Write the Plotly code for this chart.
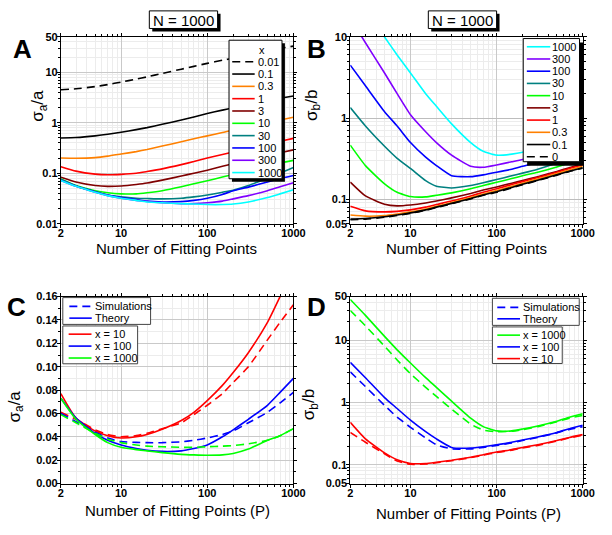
import math
import plotly.graph_objects as go

FONT = "Arial, Liberation Sans, Helvetica, sans-serif"
W, H = 612, 535

# ---------------- data ----------------
P = [2, 3, 5, 7, 10, 15, 20, 30, 50, 70, 100, 150, 200, 300, 500, 700, 1000]

# Panel A : sigma_a / a  (N = 1000)
A_labels = ["0.01", "0.1", "0.3", "1", "3", "10", "30", "100", "300", "1000"]
A_x0_01 = [4.5, 4.7, 5.2, 5.7, 6.4, 7.3, 8.1, 9.5, 11.5, 13.1, 15, 17.3, 19, 22, 26.5, 29.5, 33]
A_x0_1 = [0.5, 0.51, 0.55, 0.59, 0.65, 0.73, 0.8, 0.93, 1.13, 1.3, 1.52, 1.78, 1.98, 2.3, 2.75, 3.05, 3.4]
A_x0_3 = [0.2, 0.198, 0.204, 0.218, 0.24, 0.268, 0.295, 0.345, 0.42, 0.48, 0.55, 0.64, 0.72, 0.83, 1.0, 1.13, 1.28]
A_x1 = [0.135, 0.11, 0.096, 0.093, 0.095, 0.1, 0.108, 0.122, 0.148, 0.17, 0.2, 0.235, 0.265, 0.31, 0.38, 0.43, 0.49]
A_x3 = [0.083, 0.067, 0.057, 0.055, 0.056, 0.06, 0.064, 0.073, 0.088, 0.1, 0.115, 0.137, 0.155, 0.183, 0.225, 0.255, 0.29]
A_x10 = [0.077, 0.057, 0.045, 0.041, 0.039, 0.039, 0.041, 0.045, 0.054, 0.062, 0.071, 0.084, 0.095, 0.112, 0.138, 0.16, 0.18]
A_x30 = [0.076, 0.056, 0.043, 0.037, 0.034, 0.032, 0.0315, 0.031, 0.032, 0.034, 0.037, 0.042, 0.046, 0.057, 0.08, 0.1, 0.13]
A_x100 = [0.073, 0.056, 0.043, 0.037, 0.033, 0.030, 0.028, 0.027, 0.0275, 0.029, 0.032, 0.038, 0.045, 0.053, 0.067, 0.078, 0.09]
A_x300 = [0.072, 0.055, 0.042, 0.036, 0.032, 0.029, 0.0275, 0.026, 0.025, 0.025, 0.026, 0.028, 0.031, 0.036, 0.045, 0.054, 0.065]
A_x1000 = [0.072, 0.055, 0.042, 0.036, 0.032, 0.029, 0.027, 0.026, 0.025, 0.0245, 0.024, 0.024, 0.0245, 0.027, 0.033, 0.039, 0.047]

# Panel B : sigma_b / b  (N = 1000)
B_labels = ["1000", "300", "100", "30", "10", "3", "1", "0.3", "0.1", "0"]
B_x1000 = [45, 22, 10, 6, 3.6, 2.0, 1.4, 0.85, 0.5, 0.39, 0.35, 0.36, 0.38, 0.43, 0.52, 0.59, 0.66]
B_x300 = [17, 8.5, 3.6, 2.0, 1.1, 0.68, 0.5, 0.35, 0.255, 0.248, 0.265, 0.29, 0.31, 0.35, 0.42, 0.47, 0.53]
B_x100 = [4.5, 2.5, 1.2, 0.8, 0.5, 0.33, 0.26, 0.195, 0.19, 0.2, 0.215, 0.235, 0.255, 0.285, 0.34, 0.38, 0.43]
B_x30 = [1.35, 0.8, 0.45, 0.32, 0.24, 0.17, 0.145, 0.138, 0.148, 0.16, 0.175, 0.195, 0.21, 0.235, 0.28, 0.32, 0.36]
B_x10 = [0.465, 0.26, 0.155, 0.122, 0.108, 0.107, 0.112, 0.12, 0.135, 0.148, 0.162, 0.18, 0.195, 0.215, 0.25, 0.28, 0.31]
B_x3 = [0.163, 0.11, 0.087, 0.083, 0.085, 0.09, 0.095, 0.104, 0.118, 0.13, 0.142, 0.158, 0.17, 0.19, 0.22, 0.245, 0.275]
B_x1 = [0.082, 0.072, 0.07, 0.071, 0.074, 0.08, 0.086, 0.095, 0.11, 0.122, 0.135, 0.152, 0.165, 0.185, 0.215, 0.24, 0.265]
B_x0_3 = [0.064, 0.062, 0.063, 0.066, 0.07, 0.076, 0.082, 0.091, 0.105, 0.116, 0.128, 0.145, 0.158, 0.178, 0.207, 0.23, 0.255]
B_x0_1 = [0.057, 0.058, 0.061, 0.064, 0.068, 0.074, 0.08, 0.089, 0.102, 0.113, 0.124, 0.14, 0.153, 0.172, 0.2, 0.222, 0.245]
B_x0 = [0.056, 0.057, 0.06, 0.063, 0.067, 0.073, 0.079, 0.088, 0.101, 0.112, 0.122, 0.138, 0.151, 0.17, 0.198, 0.22, 0.242]

# Panel C : sigma_a / a, theory vs simulations
C_labels = ["x = 10", "x = 100", "x = 1000"]
C_th_x10 = [0.077, 0.056, 0.045, 0.041, 0.039, 0.040, 0.042, 0.0465, 0.054, 0.061, 0.071, 0.084, 0.095, 0.112, 0.138, 0.16, 0.185]
C_sim_x10 = [0.061, 0.055, 0.046, 0.042, 0.040, 0.041, 0.043, 0.047, 0.052, 0.059, 0.067, 0.077, 0.0865, 0.1, 0.123, 0.138, 0.153]
C_th_x100 = [0.073, 0.056, 0.043, 0.037, 0.033, 0.03, 0.0285, 0.0275, 0.028, 0.030, 0.033, 0.04, 0.046, 0.055, 0.067, 0.078, 0.09]
C_sim_x100 = [0.060, 0.053, 0.044, 0.039, 0.036, 0.0352, 0.035, 0.035, 0.0357, 0.037, 0.039, 0.042, 0.045, 0.052, 0.061, 0.069, 0.078]
C_th_x1000 = [0.073, 0.055, 0.042, 0.035, 0.031, 0.029, 0.028, 0.0265, 0.025, 0.0245, 0.0242, 0.0245, 0.0257, 0.0295, 0.037, 0.041, 0.047]
C_sim_x1000 = [0.059, 0.052, 0.043, 0.038, 0.035, 0.033, 0.032, 0.0315, 0.031, 0.031, 0.0315, 0.032, 0.0325, 0.034, 0.037, 0.041, 0.047]

# Panel D : sigma_b / b, theory vs simulations
D_labels = ["x = 1000", "x = 100", "x = 10"]
D_th_x1000 = [45, 25, 11.5, 7, 4.3, 2.5, 1.75, 1.05, 0.56, 0.41, 0.35, 0.35, 0.375, 0.42, 0.5, 0.58, 0.66]
D_sim_x1000 = [30, 17, 8, 4.8, 2.9, 1.75, 1.25, 0.78, 0.45, 0.36, 0.34, 0.345, 0.365, 0.41, 0.49, 0.56, 0.62]
D_th_x100 = [4.4, 2.5, 1.2, 0.8, 0.52, 0.34, 0.26, 0.19, 0.185, 0.195, 0.21, 0.23, 0.25, 0.28, 0.33, 0.38, 0.43]
D_sim_x100 = [3.1, 1.8, 0.9, 0.58, 0.4, 0.27, 0.21, 0.18, 0.18, 0.19, 0.205, 0.225, 0.245, 0.275, 0.325, 0.37, 0.41]
D_th_x10 = [0.48, 0.26, 0.155, 0.12, 0.105, 0.105, 0.11, 0.118, 0.132, 0.145, 0.16, 0.175, 0.19, 0.21, 0.245, 0.275, 0.305]
D_sim_x10 = [0.33, 0.23, 0.15, 0.115, 0.102, 0.103, 0.108, 0.116, 0.13, 0.143, 0.157, 0.172, 0.186, 0.205, 0.24, 0.27, 0.298]

X_TICKS = [2, 10, 100, 1000]
X_TICKTEXT = ["2", "10", "100", "1000"]
A_YTICKS = [0.01, 0.1, 1, 10, 50]
A_YTEXT = ["0.01", "0.1", "1", "10", "50"]
B_YTICKS = [0.05, 0.1, 1, 10]
B_YTEXT = ["0.05", "0.1", "1", "10"]
C_YTICKS = [0, 0.02, 0.04, 0.06, 0.08, 0.10, 0.12, 0.14, 0.16]
C_YTEXT = ["0.00", "0.02", "0.04", "0.06", "0.08", "0.10", "0.12", "0.14", "0.16"]
D_YTICKS = [0.05, 0.1, 1, 10, 50]
D_YTEXT = ["0.05", "0.1", "1", "10", "50"]

# ---------------- styles ----------------
BLACK, ORANGE, RED, DRED = "#000000", "#FF8000", "#FF0000", "#800000"
GREEN, TEAL, BLUE, PURPLE, CYAN = "#00FF00", "#008080", "#0000FF", "#8000FF", "#00FFFF"
DASH = "8px,5px"
LW = 1.6


def px(x):
    return x / W


def py(y):
    return 1 - y / H


def minor_log(lo, hi):
    vals = []
    dec = 10.0 ** -3
    while dec < 1e4:
        for m in range(2, 10):
            v = m * dec
            if lo < v < hi:
                vals.append(round(v, 6))
        dec *= 10
    return vals


fig = go.Figure()


def add_line(xa, ya, y, color, dash="solid"):
    fig.add_trace(go.Scatter(
        x=P, y=y, mode="lines", xaxis=xa, yaxis=ya, showlegend=False,
        hoverinfo="skip",
        line=dict(color=color, width=LW, dash=dash, shape="spline", smoothing=0.5)))


A_series = [A_x0_01, A_x0_1, A_x0_3, A_x1, A_x3, A_x10, A_x30, A_x100, A_x300, A_x1000]
A_colors = [BLACK, BLACK, ORANGE, RED, DRED, GREEN, TEAL, BLUE, PURPLE, CYAN]
A_dash = [DASH] + ["solid"] * 9
for s, c, d in zip(A_series, A_colors, A_dash):
    add_line("x", "y", s, c, d)

B_series = [B_x1000, B_x300, B_x100, B_x30, B_x10, B_x3, B_x1, B_x0_3, B_x0_1, B_x0]
B_colors = [CYAN, PURPLE, BLUE, TEAL, GREEN, DRED, RED, ORANGE, BLACK, BLACK]
B_dash = ["solid"] * 9 + [DASH]
for s, c, d in zip(B_series, B_colors, B_dash):
    add_line("x2", "y2", s, c, d)

for th, sim, c in [(C_th_x10, C_sim_x10, RED), (C_th_x100, C_sim_x100, BLUE),
                   (C_th_x1000, C_sim_x1000, GREEN)]:
    add_line("x3", "y3", sim, c, DASH)
    add_line("x3", "y3", th, c, "solid")

for th, sim, c in [(D_th_x1000, D_sim_x1000, GREEN), (D_th_x100, D_sim_x100, BLUE),
                   (D_th_x10, D_sim_x10, RED)]:
    add_line("x4", "y4", sim, c, DASH)
    add_line("x4", "y4", th, c, "solid")

# ---------------- axes ----------------
TICKFONT = dict(family=FONT, size=11, color="black", weight="bold")


def ax(domain, anchor, tickvals, ticktext, minor_vals, rng, typ="log", major_grid="#c9c9c9", standoff=-3):
    return dict(
        domain=domain, anchor=anchor, type=typ, range=rng,
        showline=True, linecolor="black", linewidth=1, mirror="ticks",
        ticks="outside", ticklen=3, tickwidth=1, tickcolor="black",
        tickmode="array", tickvals=tickvals, ticktext=ticktext, tickfont=TICKFONT,
        ticklabelstandoff=standoff,
        showgrid=True, gridcolor=major_grid, gridwidth=1, zeroline=False,
        minor=dict(tickmode="array", tickvals=minor_vals, ticks="outside", ticklen=2,
                   tickcolor="black", showgrid=True, gridcolor="#ececec", gridwidth=1),
    )


XL = [px(59.3), px(297.7)]
XR = [px(356), px(594.3)]
YT = [py(222.7), py(31.7)]
YB = [py(488.5), py(297.3)]
xr = [math.log10(2), 3]
xminor = minor_log(2, 1000)

fig.update_layout(
    xaxis=ax(XL, "y", X_TICKS, X_TICKTEXT, xminor, xr, standoff=-4),
    yaxis=ax(YT, "x", A_YTICKS, A_YTEXT, minor_log(0.01, 50), [-2, math.log10(50)]),
    xaxis2=ax(XR, "y2", X_TICKS, X_TICKTEXT, xminor, xr, standoff=-4),
    yaxis2=ax(YT, "x2", B_YTICKS, B_YTEXT, minor_log(0.05, 10), [math.log10(0.05), 1], major_grid="#bdbdbd"),
    xaxis3=ax(XL, "y3", X_TICKS, X_TICKTEXT, xminor, xr, standoff=-4),
    yaxis3=ax(YB, "x3", C_YTICKS, C_YTEXT, [0.01, 0.03, 0.05, 0.07, 0.09, 0.11, 0.13, 0.15], [0, 0.16], typ="linear"),
    xaxis4=ax(XR, "y4", X_TICKS, X_TICKTEXT, xminor, xr, standoff=-4),
    yaxis4=ax(YB, "x4", D_YTICKS, D_YTEXT, minor_log(0.05, 50), [math.log10(0.05), math.log10(50)]),
)

# ---------------- annotations / legends ----------------
shapes = []
annotations = []


def text(x, y, s, size, bold=False, angle=0, xanchor="center"):
    f = dict(family=FONT, size=size, color="black")
    if bold:
        f["weight"] = "bold"
    annotations.append(dict(text=s, xref="paper", yref="paper", x=px(x), y=py(y),
                            xanchor=xanchor, yanchor="middle", showarrow=False,
                            textangle=angle, font=f, borderpad=0))


def box(x0, y0, x1, y1, shadow=0, border="black"):
    if shadow:
        shapes.append(dict(type="rect", xref="paper", yref="paper",
                           x0=px(x0 + shadow), x1=px(x1 + shadow),
                           y0=py(y0 + shadow), y1=py(y1 + shadow),
                           fillcolor="black", line=dict(width=0), layer="above"))
    shapes.append(dict(type="rect", xref="paper", yref="paper",
                       x0=px(x0), x1=px(x1), y0=py(y0), y1=py(y1),
                       fillcolor="white", line=dict(color=border, width=1), layer="above"))


def item(label, color, dash, lx0, lx1, tx, y, size=11):
    shapes.append(dict(type="line", xref="paper", yref="paper",
                       x0=px(lx0), x1=px(lx1), y0=py(y), y1=py(y),
                       line=dict(color=color, width=LW, dash=dash), layer="above"))
    text(tx, y, label, size, xanchor="left")


# title boxes
box(150, 5, 220, 23, shadow=3)
text(185, 14.5, "N = 1000", 15)
box(436, 5, 506, 23, shadow=3)
text(471, 14.5, "N = 1000", 15)

# panel letters
text(20, 44, "A", 26, bold=True)
text(321, 44, "B", 26, bold=True)
text(14, 308, "C", 26, bold=True)
text(321, 308, "D", 26, bold=True)

# axis titles
text(178, 248, "Number of Fitting Points", 15)
text(475, 248, "Number of Fitting Points", 15)
text(179, 516, "Number of Fitting Points (P)", 15)
text(477, 519, "Number of Fitting Points (P)", 15)
text(37, 102, "σ<sub>a</sub>/a", 17, angle=-90)
text(317, 102, "σ<sub>b</sub>/b", 17, angle=-90)
text(13, 410, "σ<sub>a</sub>/a", 17, angle=-90)
text(315, 408, "σ<sub>b</sub>/b", 17, angle=-90)

# legend A
box(231.7, 35, 286, 176.7, shadow=3)
text(265, 45, "x", 11)
for i, (lab, c, d) in enumerate(zip(A_labels, A_colors, A_dash)):
    item(lab, c, d, 235, 258, 260, 57 + i * 12.6)

# legend B
box(533.3, 33.3, 591, 159.3, shadow=4)
for i, (lab, c, d) in enumerate(zip(B_labels, B_colors, B_dash)):
    item(lab, c, d, 537, 561, 562, 41.7 + i * 12.5)

# legend C
box(61.3, 298.3, 151.3, 325.7, border="#444444")
item("Simulations", BLUE, DASH, 68, 91, 93, 307.3)
item("Theory", BLUE, "solid", 68, 91, 93, 319.3)
box(61.3, 327.3, 138, 366, border="#444444")
for i, (lab, c) in enumerate(zip(C_labels, [RED, BLUE, GREEN])):
    item(lab, c, "solid", 67.3, 90.7, 93, 335.7 + i * 12.2)

# legend D
box(501.7, 299, 590.7, 326.7, border="#444444")
item("Simulations", BLUE, DASH, 506.7, 530, 532, 308.3)
item("Theory", BLUE, "solid", 506.7, 530, 532, 320)
box(501.7, 328.3, 573.3, 365.7, border="#444444")
for i, (lab, c) in enumerate(zip(D_labels, [GREEN, BLUE, RED])):
    item(lab, c, "solid", 506.7, 530, 532, 336.7 + i * 12.0)

fig.update_layout(
    width=W, height=H, margin=dict(l=0, r=0, t=0, b=0),
    paper_bgcolor="white", plot_bgcolor="white",
    showlegend=False, shapes=shapes, annotations=annotations,
    font=dict(family=FONT, color="black"),
)

fig.write_html("out.html", config={"displayModeBar": False},
               post_script="document.body.style.margin='0px';")
